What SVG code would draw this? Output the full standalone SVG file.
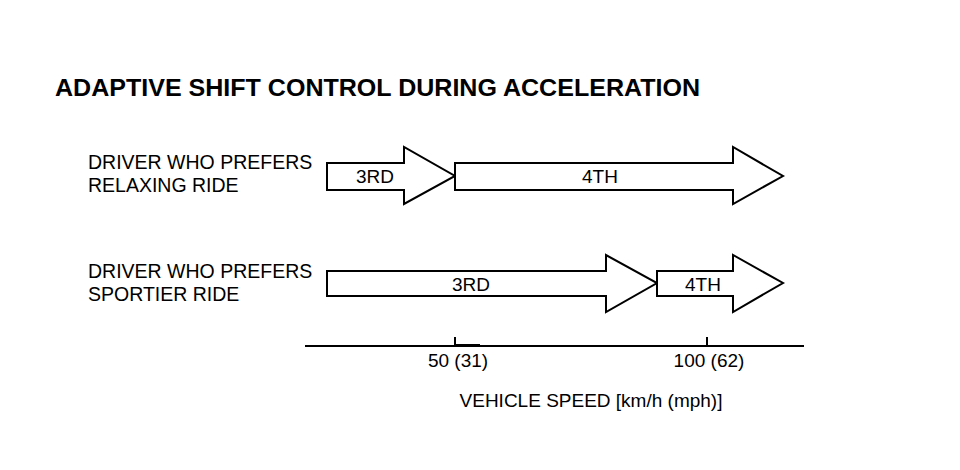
<svg xmlns="http://www.w3.org/2000/svg" width="960" height="470" viewBox="0 0 960 470">
<style>
text{font-family:"Liberation Sans",Arial,sans-serif;fill:#000}
.t{font-size:23.5px;font-weight:bold}
.l{font-size:19.5px}
.a{font-size:19px;text-anchor:middle}
.arr{fill:#fff;stroke:#000;stroke-width:2;stroke-linejoin:miter}
.ax{stroke:#000;stroke-width:2;fill:none}
</style>
<rect width="960" height="470" fill="#fff"/>
<text class="t" x="55" y="96" textLength="645" lengthAdjust="spacingAndGlyphs">ADAPTIVE SHIFT CONTROL DURING ACCELERATION</text>
<g id="label-relaxing">
<text class="l" x="88" y="169">DRIVER WHO PREFERS</text>
<text class="l" x="88" y="192">RELAXING RIDE</text>
</g>
<g id="label-sportier">
<text class="l" x="88" y="278">DRIVER WHO PREFERS</text>
<text class="l" x="88" y="301">SPORTIER RIDE</text>
</g>
<g id="relax-3rd">
<path class="arr" d="M327,163 H404 V147 L455,176 L404,204 V190 H327 Z"/>
<text class="a" x="375" y="183">3RD</text>
</g>
<g id="relax-4th">
<path class="arr" d="M455,163 H733 V147 L783,176 L733,204 V190 H455 Z"/>
<text class="a" x="600" y="183">4TH</text>
</g>
<g id="sport-3rd">
<path class="arr" d="M327,271 H606 V255 L657,283 L606,312 V296 H327 Z"/>
<text class="a" x="471" y="291">3RD</text>
</g>
<g id="sport-4th">
<path class="arr" d="M657,271 H733 V255 L783,283 L733,312 V296 H657 Z"/>
<text class="a" x="703" y="291">4TH</text>
</g>
<g id="axis">
<line class="ax" x1="305" y1="346" x2="804" y2="346"/>
<line class="ax" x1="455" y1="337" x2="455" y2="346"/>
<line class="ax" x1="455" y1="345" x2="480" y2="345"/>
<line class="ax" x1="707" y1="337" x2="707" y2="346"/>
<text class="a" x="458" y="367">50 (31)</text>
<text class="a" x="709" y="367">100 (62)</text>
<text class="a" x="591" y="407">VEHICLE SPEED [km/h (mph)]</text>
</g>
</svg>
